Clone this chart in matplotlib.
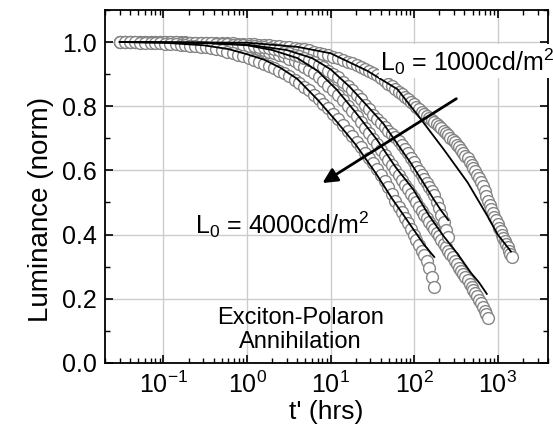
import matplotlib
matplotlib.use("Agg")
import matplotlib.pyplot as plt
from matplotlib.ticker import MultipleLocator, FormatStrFormatter

plt.rcParams['font.family'] = ['Liberation Sans', 'DejaVu Sans']
plt.rcParams['mathtext.fontset'] = 'custom'
plt.rcParams['mathtext.rm'] = 'Liberation Sans'
plt.rcParams['mathtext.it'] = 'Liberation Sans:italic'
plt.rcParams['mathtext.bf'] = 'Liberation Sans:bold'
plt.rcParams['axes.unicode_minus'] = False

# sample times (hrs), shared by the four measured traces
t_samp = [0.030, 0.035, 0.040, 0.046, 0.053, 0.060, 0.070, 0.080, 0.092, 0.105, 0.12, 0.14,
          0.16, 0.18, 0.21, 0.24, 0.28, 0.32, 0.37, 0.43, 0.5, 0.58, 0.67, 0.78, 0.9, 1.05,
          1.2, 1.4, 1.6, 1.85, 2.1, 2.4, 2.8, 3.2, 3.7, 4.2, 4.8, 5.5, 6.3, 7.2, 8.2, 9.4,
          10.7, 12.2, 14, 16, 18, 20.5, 23, 26, 29, 32.5, 36, 40, 44.5, 49, 54, 59.5, 65,
          71, 77.5, 84, 91, 98.5, 106, 114, 123, 132, 142, 152, 163, 174, 186, 198, 211,
          225, 240, 255, 271, 288, 306, 325, 345, 366, 388, 411, 435, 460, 486, 513, 541,
          570, 600, 631, 663, 696, 730, 765, 801, 838, 876, 915, 955, 996, 1038, 1081,
          1125, 1170, 1216, 1263, 1311, 1360, 1410, 1470]

# L0 = 1000 cd/m2 (slowest)
LA = [1.000, 1.000, 1.000, 1.000, 1.000, 1.000, 1.000, 1.000, 1.000, 0.999, 0.999, 0.999,
      0.999, 0.999, 0.998, 0.998, 0.998, 0.998, 0.997, 0.997, 0.997, 0.996, 0.996, 0.995,
      0.995, 0.994, 0.993, 0.992, 0.991, 0.990, 0.989, 0.987, 0.986, 0.984, 0.981, 0.979,
      0.977, 0.974, 0.970, 0.967, 0.963, 0.959, 0.954, 0.949, 0.944, 0.939, 0.934, 0.927,
      0.921, 0.915, 0.910, 0.903, 0.896, 0.888, 0.879, 0.870, 0.862, 0.853, 0.845, 0.837,
      0.830, 0.822, 0.814, 0.806, 0.798, 0.790, 0.782, 0.775, 0.768, 0.762, 0.756, 0.750,
      0.744, 0.738, 0.731, 0.723, 0.716, 0.709, 0.702, 0.695, 0.688, 0.680, 0.672, 0.664,
      0.655, 0.646, 0.637, 0.627, 0.617, 0.607, 0.597, 0.587, 0.575, 0.563, 0.550, 0.536,
      0.521, 0.506, 0.492, 0.480, 0.468, 0.456, 0.444, 0.432, 0.421, 0.410, 0.400, 0.390,
      0.380, 0.370, 0.360, 0.350, 0.340, 0.330]

LB = [1.000, 1.000, 1.000, 1.000, 1.000, 1.000, 0.999, 0.999, 0.999, 0.999, 0.999, 0.999,
      0.998, 0.998, 0.998, 0.997, 0.997, 0.996, 0.995, 0.994, 0.993, 0.991, 0.990, 0.988,
      0.986, 0.983, 0.980, 0.977, 0.974, 0.970, 0.966, 0.961, 0.955, 0.948, 0.940, 0.932,
      0.923, 0.913, 0.902, 0.890, 0.878, 0.864, 0.850, 0.835, 0.818, 0.801, 0.786, 0.768,
      0.752, 0.733, 0.716, 0.698, 0.682, 0.665, 0.648, 0.632, 0.616, 0.600, 0.585, 0.570,
      0.555, 0.541, 0.527, 0.513, 0.500, 0.487, 0.474, 0.462, 0.450, 0.438, 0.427, 0.416,
      0.405, 0.394, 0.383, 0.372, 0.361, 0.350, 0.340, 0.329, 0.318, 0.308, 0.297, 0.287,
      0.277, 0.267, 0.257, 0.247, 0.237, 0.227, 0.217, 0.207, 0.197, 0.186, 0.175, 0.163,
      0.152, 0.140]

LC = [1.000, 1.000, 1.000, 1.000, 1.000, 1.000, 1.000, 1.000, 0.999, 0.999, 0.999, 0.999,
      0.998, 0.998, 0.998, 0.997, 0.997, 0.996, 0.996, 0.995, 0.994, 0.993, 0.992, 0.991,
      0.990, 0.989, 0.987, 0.985, 0.983, 0.980, 0.978, 0.975, 0.970, 0.966, 0.961, 0.957,
      0.951, 0.944, 0.937, 0.929, 0.921, 0.911, 0.901, 0.890, 0.877, 0.863, 0.850, 0.835,
      0.821, 0.805, 0.790, 0.774, 0.760, 0.747, 0.735, 0.724, 0.713, 0.703, 0.692, 0.680,
      0.667, 0.653, 0.639, 0.625, 0.612, 0.599, 0.586, 0.573, 0.561, 0.549, 0.537, 0.524,
      0.502, 0.484, 0.462, 0.438, 0.413, 0.392]

# L0 = 4000 cd/m2 (fastest)
LD = [1.000, 1.000, 0.999, 0.999, 0.998, 0.998, 0.997, 0.997, 0.996, 0.995, 0.994, 0.993,
      0.992, 0.991, 0.989, 0.987, 0.985, 0.983, 0.980, 0.977, 0.974, 0.970, 0.966, 0.961,
      0.956, 0.950, 0.945, 0.939, 0.933, 0.926, 0.919, 0.911, 0.902, 0.893, 0.882, 0.872,
      0.861, 0.849, 0.836, 0.822, 0.808, 0.793, 0.777, 0.760, 0.742, 0.723, 0.706, 0.688,
      0.672, 0.655, 0.639, 0.622, 0.605, 0.587, 0.568, 0.548, 0.527, 0.506, 0.487, 0.470,
      0.452, 0.436, 0.418, 0.398, 0.382, 0.368, 0.350, 0.336, 0.318, 0.296, 0.268, 0.235]

# exciton-polaron model fits
fA_t = [0.03, 1, 4, 10, 27.6, 63, 120, 225, 436, 760, 1000, 1440]
fA_L = [1.0, 0.998, 0.985, 0.965, 0.91, 0.853, 0.76, 0.666, 0.5625, 0.456, 0.40, 0.347]
fB_t = [0.03, 0.1, 0.3, 1, 2, 4, 7, 12, 20, 36, 60, 98, 150, 225, 330, 480, 600, 740]
fB_L = [1.0, 0.999, 0.997, 0.99, 0.975, 0.95, 0.91, 0.85, 0.78, 0.695, 0.61, 0.54, 0.46,
        0.395, 0.34, 0.28, 0.25, 0.215]
fC_t = [0.03, 0.3, 1, 3, 6, 10, 17, 30, 43, 68, 90, 130, 171, 210, 256]
fC_L = [1.0, 0.998, 0.992, 0.975, 0.95, 0.915, 0.86, 0.79, 0.745, 0.67, 0.625, 0.56, 0.51,
        0.475, 0.445]
fD_t = [0.03, 0.1, 0.3, 0.6, 1, 1.6, 2.5, 4, 7, 12, 20, 35, 55, 90, 130, 174]
fD_L = [1.0, 0.998, 0.99, 0.978, 0.962, 0.945, 0.92, 0.885, 0.82, 0.75, 0.68, 0.59, 0.51,
        0.43, 0.37, 0.33]

fig = plt.figure(figsize=(5.53, 4.33), dpi=100)
ax = fig.add_axes([0.190, 0.162, 0.801, 0.815])

for L in [LA, LB, LC, LD]:
    ax.plot(t_samp[:len(L)], L, linestyle='none', marker='o', ms=8.5, mfc='white',
            mec='#858585', mew=1.0, zorder=2)
for t, L in [(fA_t, fA_L), (fB_t, fB_L), (fC_t, fC_L), (fD_t, fD_L)]:
    ax.plot(t, L, color='black', lw=1.3, zorder=3)

ax.set_xscale('log')
ax.set_xlim(0.02, 4000)
ax.set_ylim(0.0, 1.1)
ax.yaxis.set_major_locator(MultipleLocator(0.2))
ax.yaxis.set_minor_locator(MultipleLocator(0.1))
ax.yaxis.set_major_formatter(FormatStrFormatter('%.1f'))
ax.grid(True, which='major', color='#cccccc', lw=1.0, zorder=0)
ax.set_axisbelow(True)

ax.tick_params(which='both', direction='in', top=True, right=True, labelsize=18)
ax.tick_params(which='major', length=6, width=1.2, pad=6)
ax.tick_params(which='minor', length=3.5, width=1.0)
for s in ax.spines.values():
    s.set_linewidth(1.3)

ax.set_xlabel("t' (hrs)", fontsize=19, labelpad=2)
ax.set_ylabel("Luminance (norm)", fontsize=20, labelpad=6)
ax.yaxis.label.set_y(0.435)

ax.text(39.5, 0.94, r"L$_0$ = 1000cd/m$^2$", fontsize=18, va='center', ha='left',
        bbox=dict(facecolor='white', edgecolor='none', pad=1), zorder=4)
ax.text(0.237, 0.431, r"L$_0$ = 4000cd/m$^2$", fontsize=18, va='center', ha='left', zorder=4)
ax.text(4.33, 0.103, "Exciton-Polaron\nAnnihilation", fontsize=17, va='center',
        ha='center', linespacing=1.1, zorder=4)
ax.annotate("", xy=(7.5, 0.556), xytext=(341, 0.828),
            arrowprops=dict(arrowstyle='-|>', color='black', lw=2,
                            mutation_scale=22), zorder=5)

fig.savefig("out.png", dpi=100)
